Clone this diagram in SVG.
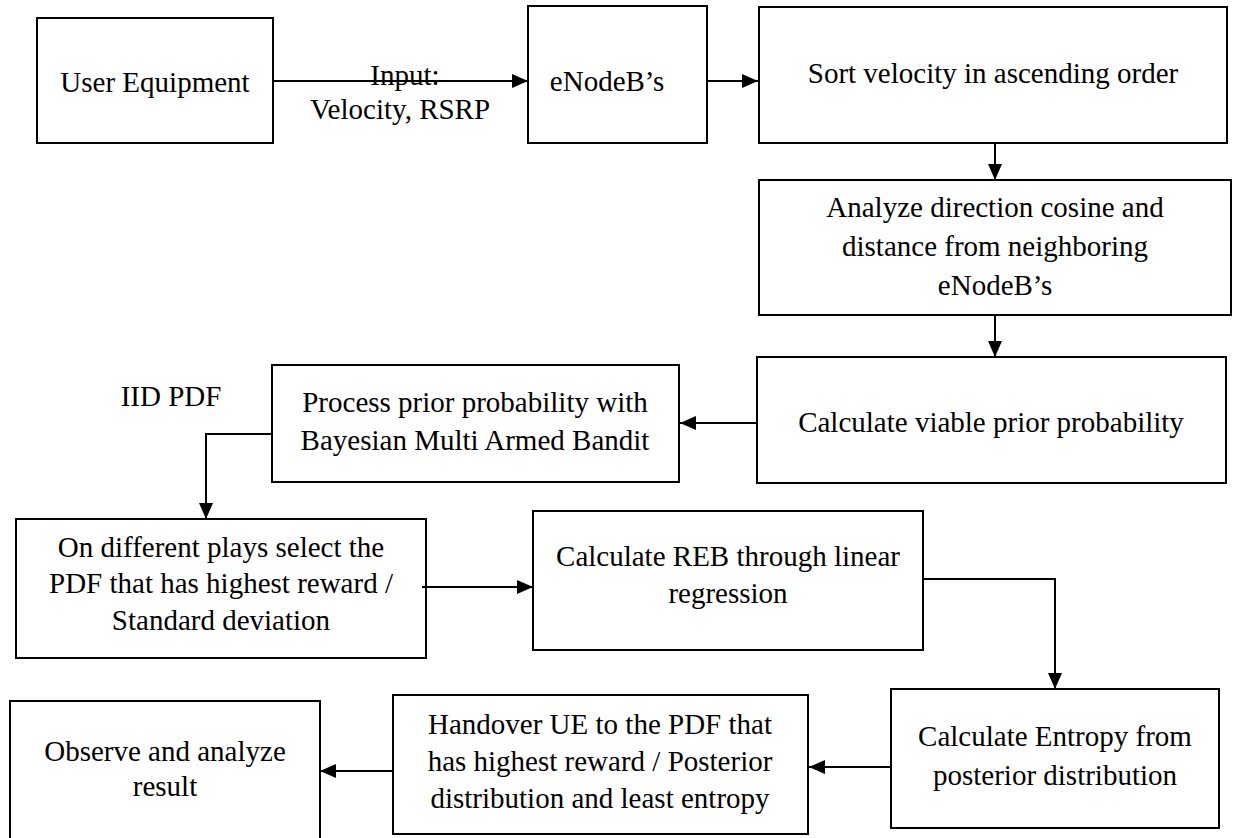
<svg xmlns="http://www.w3.org/2000/svg" width="1233" height="838" viewBox="0 0 1233 838">
<style>
.box{fill:#fff;stroke:#000;stroke-width:2}
.t{font-family:"Liberation Serif","Times New Roman",serif;font-size:29px;fill:#000;text-anchor:middle}
.c{fill:none;stroke:#000;stroke-width:2}
</style>
<defs>
<marker id="ah" markerUnits="userSpaceOnUse" markerWidth="16" markerHeight="14" refX="16" refY="7" orient="auto">
<path d="M0,0 L16,7 L0,14 z" fill="#000"/>
</marker>
</defs>
<rect width="1233" height="838" fill="#fff"/>
<g id="ue"><rect class="box" x="37" y="18" width="236" height="125"/><text class="t" x="155" y="92">User Equipment</text></g>
<g id="enb"><rect class="box" x="528" y="6" width="179" height="137"/><text class="t" x="607" y="91">eNodeB’s</text></g>
<g id="sort"><rect class="box" x="759" y="7" width="468" height="136"/><text class="t" x="993" y="83">Sort velocity in ascending order</text></g>
<g id="analyze"><rect class="box" x="759" y="180" width="472" height="135"/><text class="t" x="995" y="217">Analyze direction cosine and</text><text class="t" x="995" y="256">distance from neighboring</text><text class="t" x="995" y="295">eNodeB’s</text></g>
<g id="viable"><rect class="box" x="757" y="357" width="469" height="126"/><text class="t" x="991" y="432">Calculate viable prior probability</text></g>
<g id="process"><rect class="box" x="272" y="365" width="407" height="117"/><text class="t" x="475" y="412">Process prior probability with</text><text class="t" x="475" y="450">Bayesian Multi Armed Bandit</text></g>
<g id="iid"><text class="t" x="171" y="406">IID PDF</text></g>
<g id="select"><rect class="box" x="16" y="519" width="410" height="139"/><text class="t" x="221" y="557">On different plays select the</text><text class="t" x="221" y="593">PDF that has highest reward /</text><text class="t" x="221" y="630">Standard deviation</text></g>
<g id="reb"><rect class="box" x="533" y="511" width="390" height="139"/><text class="t" x="728" y="566">Calculate REB through linear</text><text class="t" x="728" y="603">regression</text></g>
<g id="entropy"><rect class="box" x="891" y="689" width="328" height="139"/><text class="t" x="1055" y="746">Calculate Entropy from</text><text class="t" x="1055" y="785">posterior distribution</text></g>
<g id="handover"><rect class="box" x="393" y="695" width="415" height="139"/><text class="t" x="600" y="734">Handover UE to the PDF that</text><text class="t" x="600" y="771">has highest reward / Posterior</text><text class="t" x="600" y="808">distribution and least entropy</text></g>
<g id="observe"><rect class="box" x="10" y="701" width="310" height="138"/><text class="t" x="165" y="761">Observe and analyze</text><text class="t" x="165" y="796">result</text></g>
<g id="connectors">
<path class="c" d="M273,81 H528" marker-end="url(#ah)"/>
<text class="t" x="405" y="85">Input:</text>
<text class="t" x="400" y="119">Velocity, RSRP</text>
<path class="c" d="M707,81 H758" marker-end="url(#ah)"/>
<path class="c" d="M995,143 V180" marker-end="url(#ah)"/>
<path class="c" d="M995,315 V357" marker-end="url(#ah)"/>
<path class="c" d="M757,423 H680" marker-end="url(#ah)"/>
<path class="c" d="M272,434 H206 V519" marker-end="url(#ah)"/>
<path class="c" d="M422,587 H533" marker-end="url(#ah)"/>
<path class="c" d="M923,579 H1055 V689" marker-end="url(#ah)"/>
<path class="c" d="M891,767 H809" marker-end="url(#ah)"/>
<path class="c" d="M393,771 H320" marker-end="url(#ah)"/>
</g>
</svg>
